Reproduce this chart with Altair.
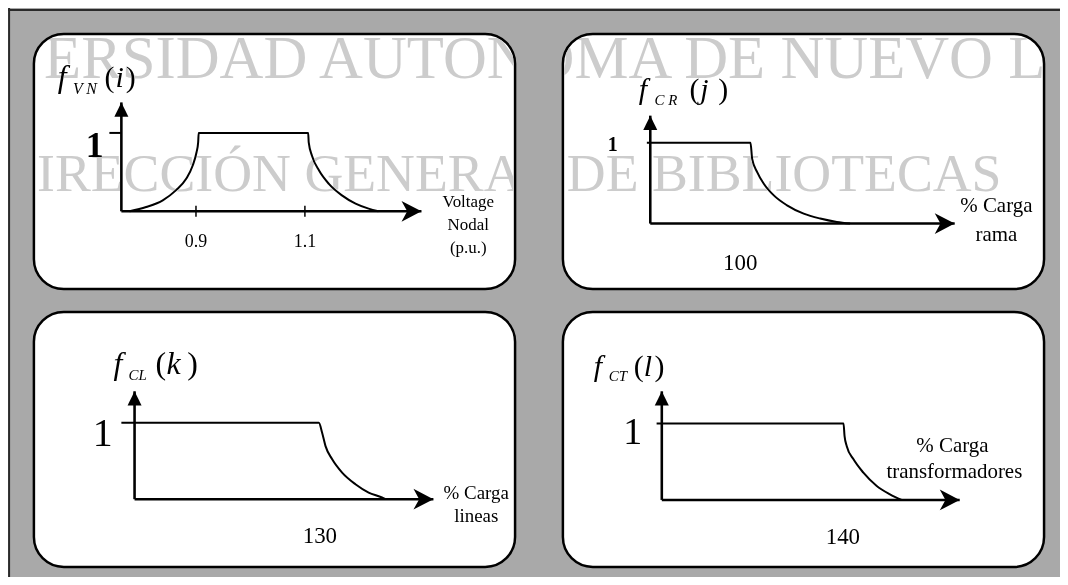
import altair as alt
import pandas as pd

FONT = "Liberation Serif"

# ---------------- values ----------------
# Panel 1 : f_VN(i)  (x in p.u.)
VN_X = [0.778, 0.8085, 0.839, 0.863, 0.882, 0.894, 0.901, 0.904, 0.905,
        1.106, 1.107, 1.113, 1.126, 1.144, 1.168, 1.193, 1.217, 1.235]
VN_Y = [0.0, 0.055, 0.14, 0.267, 0.415, 0.584, 0.753, 0.88, 1.0,
        1.0, 0.88, 0.71, 0.52, 0.35, 0.203, 0.098, 0.034, 0.0]
VN_AXIS = [0.763, 1.314, 1.389]          # origin x, x-axis end, y-axis end
VN_TICKS = [0.9, 1.1]
VN_TICK_TEXT = ["0.9", "1.1"]

# Panel 2 : f_CR(j)  (% carga rama)
CR_X = [-3.4, 100.0, 101.7, 106.7, 113.3, 123.3, 136.5, 153.1, 169.6, 186.2, 199.4]
CR_Y = [1.0, 1.0, 0.802, 0.637, 0.494, 0.349, 0.226, 0.123, 0.062, 0.02, 0.0]
CR_AXIS = [0.0, 303.8, 1.337]

# Panel 3 : f_CL(k)  (% carga lineas)
CL_X = [-9.3, 130.0, 132.3, 134.7, 139.4, 146.4, 155.8, 165.1, 174.5, 177.0]
CL_Y = [1.0, 1.0, 0.87, 0.695, 0.522, 0.348, 0.196, 0.087, 0.022, 0.0]
CL_AXIS = [0.0, 210.8, 1.412]

# Panel 4 : f_CT(l)  (% carga transformadores)
CT_X = [-4.0, 140.0, 140.8, 142.5, 147.7, 155.3, 165.6, 175.8, 184.7]
CT_Y = [1.0, 1.0, 0.834, 0.704, 0.531, 0.357, 0.183, 0.074, 0.0]
CT_AXIS = [0.0, 229.5, 1.421]

# text labels: text, x, y, font size
VN_LABELS = (VN_TICK_TEXT + ["Voltage", "Nodal", "(p.u.)"],
             VN_TICKS + [1.4, 1.4, 1.4], [-0.457, -0.457, 0.051, -0.241, -0.534],
             [18, 18, 17, 17, 17])
VN_BOLD = (["1"], [0.714], [0.699], [36])
CR_LABELS = (["100", "% Carga", "rama"], [89.8, 345.4, 345.4], [-0.577, 0.14, -0.219], [23, 21, 21])
CR_BOLD = (["1"], [-37.5], [0.905], [20])
CL_LABELS = (["1", "130", "% Carga", "lineas"], [-22.5, 130.7, 241.0, 241.0],
             [0.691, -0.574, 0.0, -0.3], [40, 23, 19, 19])
CT_LABELS = (["1", "140", "% Carga", "transformadores"], [-22.5, 139.5, 223.9, 225.4],
             [0.726, -0.576, 0.622, 0.283], [38, 23, 21, 21])

# function names: italic pieces and upright parentheses
VN_TITLE_IT = (["f", "V N", "i"], [0.646, 0.674, 0.752], [1.588, 1.499, 1.588], [32, 16, 30])
VN_TITLE_UP = (["(", ")"], [0.732, 0.771], [1.588, 1.588], [30, 30])
CR_TITLE_IT = (["f", "C R", "j"], [-11.6, 4.3, 50.0], [1.547, 1.473, 1.547], [30, 15, 30])
CR_TITLE_UP = (["(", ")"], [39.1, 67.9], [1.547, 1.547], [30, 30])
CL_TITLE_IT = (["f", "CL", "k"], [-14.8, -4.2, 22.5], [1.643, 1.565, 1.643], [32, 15, 32])
CL_TITLE_UP = (["(", ")"], [14.8, 37.2], [1.643, 1.643], [32, 32])
CT_TITLE_IT = (["f", "CT", "l"], [-52.4, -40.9, -14.0], [1.626, 1.561, 1.626], [30, 15, 30])
CT_TITLE_UP = (["(", ")"], [-21.7, -5.6], [1.626, 1.626], [30, 30])

# library stamp of the scanned page
WM_TEXT = ["VERSIDAD AUTONOMA DE NUEVO LE", "DIRECCIÓN GENERAL DE BIBLIOTECAS"]
WM_X = [-648.8, -650.8]
WM_Y = [1.806, 0.399]
WM_SIZE = [61, 54]

# ---------------- chart construction ----------------
RIGHT_ARROW = "M0,0 L-1.82,-0.95 L-1.3,0 L-1.82,0.95 Z"
UP_ARROW = "M0,0 L-0.64,1.3 L0.64,1.3 Z"


def tdf(spec):
    t, x, y, s = spec
    return pd.DataFrame({"t": t, "x": x, "y": y, "s": s})


def make_panel(xdom, ydom, cx, cy, axis, labels, bold=None, t_it=None, t_up=None,
               extra_segs=None, frame=None, watermark=False):
    xs = alt.Scale(domain=xdom, nice=False, zero=False)
    ys = alt.Scale(domain=ydom, nice=False, zero=False)
    X = alt.X("x:Q", scale=xs, axis=None)
    Y = alt.Y("y:Q", scale=ys, axis=None)
    o, xe, ye = axis
    segs = [(o, 0, xe, 0, 2.6), (o, 0, o, ye, 2.6)] + (extra_segs or [])
    seg_df = pd.DataFrame(segs, columns=["x", "y", "x2", "y2", "w"])
    layers = []
    if frame is not None:
        fdf = pd.DataFrame([frame], columns=["x", "y", "x2", "y2"])
        layers.append(alt.Chart(fdf).mark_rule(color="#2a2a2a", strokeWidth=2).encode(
            x=X, y=Y, x2="x2:Q", y2="y2:Q"))
    layers.append(alt.Chart(seg_df).mark_rule(color="black", strokeCap="butt").encode(
        x=X, y=Y, x2="x2:Q", y2="y2:Q",
        strokeWidth=alt.StrokeWidth("w:Q", scale=None)))
    cdf = pd.DataFrame({"x": cx, "y": cy})
    layers.append(alt.Chart(cdf).mark_line(color="black", strokeWidth=2,
                                           interpolate="monotone").encode(x=X, y=Y))
    layers.append(alt.Chart(pd.DataFrame({"x": [xe], "y": [0.0]})).mark_point(
        shape=RIGHT_ARROW, size=484, filled=True, color="black", opacity=1,
        strokeWidth=0).encode(x=X, y=Y))
    layers.append(alt.Chart(pd.DataFrame({"x": [o], "y": [ye]})).mark_point(
        shape=UP_ARROW, size=484, filled=True, color="black", opacity=1,
        strokeWidth=0).encode(x=X, y=Y))
    base_txt = dict(font=FONT, baseline="alphabetic", color="black")
    layers.append(alt.Chart(tdf(labels)).mark_text(align="center", **base_txt).encode(
        x=X, y=Y, text="t:N", size=alt.Size("s:Q", scale=None)))
    if bold is not None:
        layers.append(alt.Chart(tdf(bold)).mark_text(align="center", fontWeight="bold",
                                                     **base_txt).encode(
            x=X, y=Y, text="t:N", size=alt.Size("s:Q", scale=None)))
    if t_it is not None:
        layers.append(alt.Chart(tdf(t_it)).mark_text(align="left", fontStyle="italic",
                                                     **base_txt).encode(
            x=X, y=Y, text="t:N", size=alt.Size("s:Q", scale=None)))
    if t_up is not None:
        layers.append(alt.Chart(tdf(t_up)).mark_text(align="left", **base_txt).encode(
            x=X, y=Y, text="t:N", size=alt.Size("s:Q", scale=None)))
    if watermark:
        wdf = pd.DataFrame({"t": WM_TEXT, "x": WM_X, "y": WM_Y, "s": WM_SIZE})
        layers.append(alt.Chart(wdf).mark_text(align="left", baseline="alphabetic",
                                               font=FONT, color="#cccccc",
                                               blend="darken").encode(
            x=X, y=Y, text="t:N", size=alt.Size("s:Q", scale=None)))
    return alt.layer(*layers).properties(width=483, height=256)


p1 = make_panel([0.6024, 1.4859], [-0.991, 2.262], VN_X, VN_Y, VN_AXIS,
                VN_LABELS, VN_BOLD, VN_TITLE_IT, VN_TITLE_UP,
                extra_segs=[(0.741, 1.0, 0.763, 1.0, 2.0)] +
                           [(t, -0.07, t, 0.07, 1.5) for t in VN_TICKS])
p2 = make_panel([-87.2, 393.0], [-0.811, 2.349], CR_X, CR_Y, CR_AXIS,
                CR_LABELS, CR_BOLD, CR_TITLE_IT, CR_TITLE_UP,
                frame=(-648.8, 2.646, 412.8, 2.646), watermark=True)
p3 = make_panel([-71.0, 268.4], [-0.887, 2.451], CL_X, CL_Y, CL_AXIS,
                CL_LABELS, None, CL_TITLE_IT, CL_TITLE_UP,
                frame=(-88.5, 6.52, -88.5, -1.2))
p4 = make_panel([-76.2, 294.5], [-0.877, 2.460], CT_X, CT_Y, CT_AXIS,
                CT_LABELS, None, CT_TITLE_IT, CT_TITLE_UP)

chart = alt.concat(p1, p2, p3, p4, columns=2, spacing={"row": 23, "column": 48},
                   bounds="flush").properties(
    padding={"left": 26, "top": 25, "right": 1030, "bottom": 544},
    autosize=alt.AutoSizeParams(type="none"),
    background="#a9a9a9",
).configure_view(fill="white", stroke="black", strokeWidth=2.5, cornerRadius=30)

chart.save("out.html", embed_options={"renderer": "svg", "actions": False})
